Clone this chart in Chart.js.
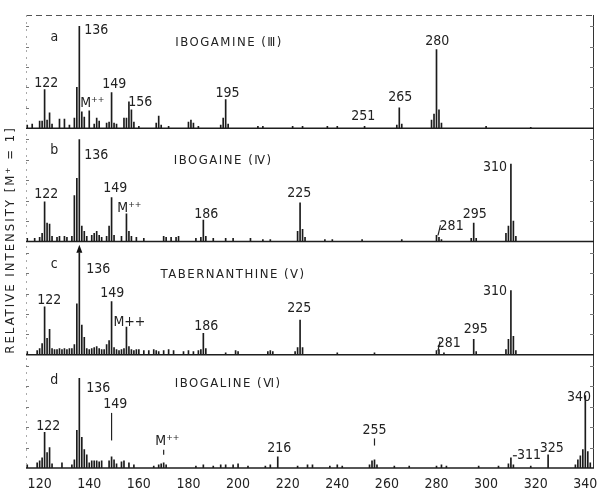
<!DOCTYPE html>
<html>
<head>
<meta charset="utf-8">
<script src="https://cdn.jsdelivr.net/npm/chart.js@4"></script>
<style>
  html, body { margin: 0; padding: 0; background: #fff; }
  #wrap { position: relative; width: 597px; height: 489px; }
</style>
</head>
<body>
<div id="wrap"><canvas id="spectra" width="597" height="489"></canvas></div>
<script>
// m/z and relative intensity (top to bottom)
const ibogamineMz = [115, 117, 120, 121, 122, 123, 124, 125, 128, 130, 132, 134, 135, 136, 137, 138, 140, 142, 143, 144, 147, 148, 149, 150, 151, 154, 155, 156, 157, 158, 160, 167, 168, 169, 172, 180, 181, 182, 184, 193, 194, 195, 196, 208, 210, 222, 226, 236, 240, 251, 264, 265, 266, 278, 279, 280, 281, 282, 300, 318];
const ibogamineInt = [3, 4, 7, 7, 38, 8, 15, 4, 9, 9, 3, 10, 40, 100, 16, 11, 17, 4, 10, 7, 5, 6, 35, 5, 4, 10, 10, 26, 18, 6, 2, 5, 12, 3, 2, 6, 8, 5, 2, 3, 10, 28, 4, 2, 2, 2, 2, 2, 2, 2, 3, 20, 4, 8, 14, 77, 18, 5, 2, 1];

const ibogaineMz = [115, 118, 120, 121, 122, 123, 124, 125, 127, 128, 130, 131, 133, 134, 135, 136, 137, 138, 139, 141, 142, 143, 144, 145, 147, 148, 149, 150, 153, 155, 156, 157, 159, 162, 170, 171, 173, 175, 176, 183, 185, 186, 187, 190, 195, 198, 205, 210, 213, 224, 225, 226, 227, 235, 238, 250, 266, 280, 281, 282, 294, 295, 296, 308, 309, 310, 311, 312];
const ibogaineInt = [3, 3, 4, 8, 39, 18, 17, 5, 4, 5, 5, 4, 5, 45, 62, 100, 15, 10, 5, 6, 8, 10, 6, 4, 5, 15, 43, 6, 5, 27, 10, 5, 4, 3, 5, 4, 4, 4, 5, 3, 4, 21, 5, 3, 3, 3, 3, 2, 2, 10, 38, 12, 4, 2, 2, 2, 2, 6, 4, 2, 3, 18, 3, 8, 15, 76, 20, 5];

const tabernanthineMz = [115, 119, 120, 121, 122, 123, 124, 125, 126, 127, 128, 129, 130, 131, 132, 133, 134, 135, 136, 137, 138, 139, 140, 141, 142, 143, 144, 145, 146, 147, 148, 149, 150, 151, 152, 153, 154, 155, 156, 157, 158, 159, 160, 162, 164, 166, 167, 168, 170, 172, 174, 178, 180, 182, 184, 185, 186, 187, 195, 199, 200, 212, 213, 214, 223, 224, 225, 226, 240, 255, 280, 281, 283, 295, 296, 308, 309, 310, 311, 312];
const tabernanthineInt = [3, 4, 6, 11, 47, 16, 25, 6, 5, 5, 6, 5, 6, 5, 6, 6, 10, 50, 100, 29, 17, 6, 5, 6, 7, 8, 6, 5, 5, 10, 14, 52, 7, 5, 4, 5, 6, 27, 8, 5, 4, 5, 5, 4, 4, 5, 4, 3, 4, 5, 4, 3, 4, 3, 4, 5, 21, 6, 2, 4, 3, 3, 4, 3, 3, 7, 34, 7, 2, 2, 4, 5, 2, 15, 3, 5, 15, 63, 18, 4];

const ibogalineMz = [115, 119, 120, 121, 122, 123, 124, 125, 129, 133, 134, 135, 136, 137, 138, 139, 140, 141, 142, 143, 144, 145, 148, 149, 150, 151, 153, 154, 156, 158, 166, 168, 169, 170, 171, 183, 186, 190, 193, 195, 198, 200, 204, 211, 213, 216, 224, 228, 230, 237, 240, 242, 253, 254, 255, 256, 263, 269, 280, 282, 284, 297, 305, 309, 310, 311, 318, 325, 336, 337, 338, 339, 340, 341, 342];
const ibogalineInt = [3, 5, 7, 10, 35, 15, 20, 4, 5, 3, 8, 37, 88, 30, 18, 13, 5, 7, 7, 7, 6, 7, 7, 11, 8, 4, 6, 7, 5, 3, 2, 3, 4, 5, 3, 2, 3, 2, 3, 3, 3, 4, 2, 2, 3, 11, 2, 3, 3, 2, 3, 2, 3, 7, 8, 3, 2, 2, 2, 3, 2, 2, 2, 4, 10, 3, 2, 13, 3, 8, 12, 18, 71, 16, 5];

const xTicks = [120, 140, 160, 180, 200, 220, 240, 260, 280, 300, 320, 340];
const panelNames = ['IBOGAMINE (Ⅲ)', 'IBOGAINE (Ⅳ)', 'TABERNANTHINE (Ⅴ)', 'IBOGALINE (Ⅵ)'];
const panelLetters = ['a', 'b', 'c', 'd'];
const yTitle = 'RELATIVE INTENSITY [M⁺ = 1]';

const panels = [
  { id: 'y1', mz: ibogamineMz, inten: ibogamineInt },
  { id: 'y2', mz: ibogaineMz, inten: ibogaineInt },
  { id: 'y3', mz: tabernanthineMz, inten: tabernanthineInt },
  { id: 'y4', mz: ibogalineMz, inten: ibogalineInt },
];

// where the peak labels sit, in (m/z, intensity) of their panel
const peakLabels = [
  { p: 0, t: '122', m: 122.7, v: 44 },
  { p: 0, t: '136', m: 138.0, v: 96, align: 'left' },
  { p: 0, t: 'M⁺⁺', m: 141.2, v: 24.5 },
  { p: 0, t: '149', m: 150.1, v: 43 },
  { p: 0, t: '156', m: 160.6, v: 25.5 },
  { p: 0, t: '195', m: 195.7, v: 34 },
  { p: 0, t: '251', m: 250.5, v: 12 },
  { p: 0, t: '265', m: 265.4, v: 30 },
  { p: 0, t: '280', m: 280.3, v: 85 },

  { p: 1, t: '122', m: 122.7, v: 46 },
  { p: 1, t: '136', m: 138.0, v: 84, align: 'left' },
  { p: 1, t: '149', m: 150.5, v: 52 },
  { p: 1, t: 'M⁺⁺', m: 156.2, v: 32 },
  { p: 1, t: '186', m: 187.2, v: 27 },
  { p: 1, t: '225', m: 224.7, v: 47 },
  { p: 1, t: '281', m: 286.1, v: 14.5 },
  { p: 1, t: '295', m: 295.4, v: 26.5 },
  { p: 1, t: '310', m: 303.6, v: 72.5 },

  { p: 2, t: '122', m: 123.9, v: 53 },
  { p: 2, t: '136', m: 138.8, v: 84, align: 'left' },
  { p: 2, t: '149', m: 149.3, v: 60 },
  { p: 2, t: 'M++', m: 156.2, v: 32 },
  { p: 2, t: '186', m: 187.2, v: 28 },
  { p: 2, t: '225', m: 224.7, v: 45 },
  { p: 2, t: '281', m: 284.9, v: 11 },
  { p: 2, t: '295', m: 295.8, v: 24.5 },
  { p: 2, t: '310', m: 303.6, v: 62 },

  { p: 3, t: '122', m: 123.5, v: 41 },
  { p: 3, t: '136', m: 138.8, v: 78, align: 'left' },
  { p: 3, t: '149', m: 150.5, v: 62 },
  { p: 3, t: 'M⁺⁺', m: 171.5, v: 26 },
  { p: 3, t: '216', m: 216.6, v: 19.5 },
  { p: 3, t: '255', m: 255.0, v: 37 },
  { p: 3, t: '311', m: 317.3, v: 12 },
  { p: 3, t: '325', m: 326.5, v: 19.5 },
  { p: 3, t: '340', m: 337.5, v: 69 },
];

// short leader strokes drawn with some labels
const leaders = [
  { p: 1, m0: 281.6, v0: 16, m1: 280.6, v1: 6 },
  { p: 2, m0: 281.4, v0: 13, m1: 280.6, v1: 4 },
  { p: 3, m0: 149, v0: 54, m1: 149, v1: 27 },
  { p: 3, m0: 170, v0: 18, m1: 170, v1: 13 },
  { p: 3, m0: 255, v0: 29, m1: 255, v1: 22 },
  { p: 3, m0: 310.8, v0: 12, m1: 312.4, v1: 12 },
];

const FONT = '"Liberation Sans Narrow", "DejaVu Sans Condensed", "Liberation Sans", sans-serif';

const annotate = {
  id: 'annotate',
  afterDatasetsDraw(chart) {
    const { ctx, chartArea: a, scales } = chart;
    const xs = scales.x;
    ctx.save();

    // outer frame
    ctx.lineWidth = 1;
    ctx.strokeStyle = '#555';
    ctx.setLineDash([6, 4]);
    ctx.beginPath();
    ctx.moveTo(a.left, a.top + 0.5);
    ctx.lineTo(a.right, a.top + 0.5);
    ctx.stroke();
    ctx.strokeStyle = '#aaa';
    ctx.setLineDash([2, 5]);
    ctx.beginPath();
    ctx.moveTo(a.left + 0.5, a.top);
    ctx.lineTo(a.left + 0.5, a.bottom);
    ctx.stroke();
    ctx.setLineDash([]);
    ctx.strokeStyle = '#333';
    ctx.beginPath();
    ctx.moveTo(a.right - 0.5, a.top);
    ctx.lineTo(a.right - 0.5, a.bottom);
    ctx.stroke();

    panels.forEach((p, k) => {
      const ys = scales[p.id];
      const base = ys.getPixelForValue(0);

      // panel baseline
      ctx.strokeStyle = '#1e1e1e';
      ctx.lineWidth = 1.4;
      ctx.beginPath();
      ctx.moveTo(a.left, base);
      ctx.lineTo(a.right, base);
      ctx.stroke();

      // small ticks on both borders
      ctx.strokeStyle = '#777';
      ctx.lineWidth = 1;
      [20, 40, 60, 80, 100].forEach(v => {
        const y = Math.round(ys.getPixelForValue(v)) + 0.5;
        ctx.beginPath();
        ctx.moveTo(a.left, y); ctx.lineTo(a.left + 3, y);
        ctx.moveTo(a.right - 4, y); ctx.lineTo(a.right, y);
        ctx.stroke();
      });

      ctx.fillStyle = '#222';
      ctx.textBaseline = 'middle';
      ctx.textAlign = 'center';
      ctx.font = '14px ' + FONT;
      ctx.fillText(panelLetters[k], xs.getPixelForValue(125.9), ys.getPixelForValue(k === 3 ? 86 : 89));

      const nameAt = [[196.4, 84], [194, 79], [198, 79], [196, 83]][k];
      ctx.font = '13px ' + FONT;
      ctx.letterSpacing = '1.5px';
      ctx.fillText(panelNames[k], xs.getPixelForValue(nameAt[0]), ys.getPixelForValue(nameAt[1]));
      ctx.letterSpacing = '0px';
    });

    // peak labels
    ctx.font = '14px ' + FONT;
    ctx.fillStyle = '#222';
    ctx.textBaseline = 'middle';
    peakLabels.forEach(l => {
      const ys = scales[panels[l.p].id];
      ctx.textAlign = l.align || 'center';
      ctx.fillText(l.t, xs.getPixelForValue(l.m), ys.getPixelForValue(l.v));
    });

    ctx.strokeStyle = '#222';
    ctx.lineWidth = 1.2;
    leaders.forEach(l => {
      const ys = scales[panels[l.p].id];
      ctx.beginPath();
      ctx.moveTo(xs.getPixelForValue(l.m0), ys.getPixelForValue(l.v0));
      ctx.lineTo(xs.getPixelForValue(l.m1), ys.getPixelForValue(l.v1));
      ctx.stroke();
    });

    // arrowhead over the base peak of tabernanthine
    const y3 = scales.y3;
    const ax = xs.getPixelForValue(136);
    const ay = y3.getPixelForValue(102);
    ctx.fillStyle = '#111';
    ctx.beginPath();
    ctx.moveTo(ax, ay - 6);
    ctx.lineTo(ax - 3, ay + 2);
    ctx.lineTo(ax + 3, ay + 2);
    ctx.closePath();
    ctx.fill();

    // vertical axis title
    ctx.translate(11, 240);
    ctx.rotate(-Math.PI / 2);
    ctx.textAlign = 'center';
    ctx.textBaseline = 'middle';
    ctx.font = '13px ' + FONT;
    ctx.letterSpacing = '2px';
    ctx.fillStyle = '#222';
    ctx.fillText(yTitle, 0, 0);
    ctx.restore();
  }
};

const yScale = () => ({
  type: 'linear',
  position: 'left',
  stack: 'spectra',
  stackWeight: 1,
  min: 0,
  max: 111,
  offset: false,
  grid: { display: false, drawTicks: false },
  border: { display: false },
  ticks: { display: false },
  afterFit: s => { s.width = 0; },
});

const scales = {
  x: {
    type: 'linear',
    min: 114.5,
    max: 343.5,
    offset: false,
    grid: { display: false, drawTicks: false, offset: false },
    border: { display: false },
    afterBuildTicks: s => { s.ticks = xTicks.map(v => ({ value: v })); },
    afterFit: s => { s.height = 21; s.paddingRight = 0; },
    ticks: {
      autoSkip: false,
      maxRotation: 0,
      padding: 8,
      color: '#222',
      font: { family: FONT, size: 14 },
    },
  },
};
// stacked left axes are laid out last-defined on top, so add them bottom panel first
panels.slice().reverse().forEach(p => { scales[p.id] = yScale(); });

new Chart(document.getElementById('spectra'), {
  type: 'bar',
  data: {
    datasets: panels.map(p => ({
      data: p.mz.map((m, i) => ({ x: m, y: p.inten[i] })),
      yAxisID: p.id,
      backgroundColor: '#1b1b1b',
      borderWidth: 0,
      barThickness: 1,
      grouped: false,
    })),
  },
  options: {
    responsive: false,
    animation: false,
    devicePixelRatio: 1,
    layout: { padding: { left: 26, right: 3, top: 15, bottom: 0 } },
    plugins: { legend: { display: false }, tooltip: { enabled: false } },
    scales: scales,
  },
  plugins: [annotate],
});
</script>
</body>
</html>
